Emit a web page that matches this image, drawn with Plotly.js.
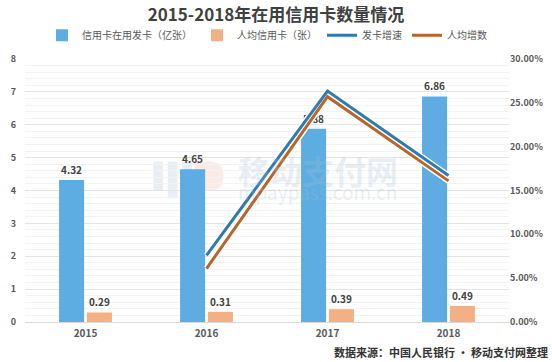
<!DOCTYPE html>
<html><head><meta charset="utf-8">
<script src="https://cdn.plot.ly/plotly-3.0.1.min.js"></script>
<style>html,body{margin:0;padding:0;background:#fff}#c{width:552px;height:362px}</style>
</head><body><div id="c"></div>
<script>
var years = ['2015','2016','2017','2018'];
var cardsInUse = [4.32, 4.65, 5.88, 6.86];
var perCapita = [0.29, 0.31, 0.39, 0.49];
var lineYears = ['2016','2017','2018'];
var cardGrowth = [0.076, 0.2635, 0.167];
var perCapitaGrowth = [0.061, 0.257, 0.161];
var leftTicks = [0,1,2,3,4,5,6,7,8];

var FONT = 'Noto Sans CJK SC, Noto Sans, sans-serif';
var traces = [
  {type:'bar', name:'信用卡在用发卡（亿张）', x:years, y:cardsInUse, marker:{color:'#5DADE2'},
   text:cardsInUse.map(function(v){return v.toFixed(2);}), textposition:'outside', cliponaxis:false,
   textfont:{size:10, color:'#404040', family:FONT, weight:'bold'}},
  {type:'bar', name:'人均信用卡（张）', x:years, y:perCapita, marker:{color:'#F2B084'},
   text:perCapita.map(function(v){return v.toFixed(2);}), textposition:'outside', cliponaxis:false,
   textfont:{size:10, color:'#404040', family:FONT, weight:'bold'}},
  {type:'scatter', mode:'lines', x:lineYears, y:cardGrowth, yaxis:'y2', showlegend:false, hoverinfo:'skip',
   line:{color:'#ffffff', width:6}},
  {type:'scatter', mode:'lines', x:lineYears, y:perCapitaGrowth, yaxis:'y2', showlegend:false, hoverinfo:'skip',
   line:{color:'#ffffff', width:6}},
  {type:'scatter', mode:'lines', name:'发卡增速', x:lineYears, y:cardGrowth, yaxis:'y2',
   line:{color:'#2E7BAF', width:3}},
  {type:'scatter', mode:'lines', name:'人均增数', x:lineYears, y:perCapitaGrowth, yaxis:'y2',
   line:{color:'#B8652C', width:3}}
];

var WM = 'rgba(165,190,212,0.26)';
var layout = {
  width:552, height:362,
  margin:{l:25, r:43, t:59, b:40},
  paper_bgcolor:'#fff', plot_bgcolor:'rgba(0,0,0,0)',
  font:{family:FONT, color:'#595959', size:9},
  title:{text:'<b>2015-2018年在用信用卡数量情况</b>', x:0.5, xanchor:'center', y:0.958, yanchor:'middle',
         font:{size:17, color:'#404040', family:FONT}},
  showlegend:true,
  legend:{orientation:'h', x:0.5, xanchor:'center', y:1.09, yanchor:'middle',
          font:{size:10, color:'#595959', family:FONT}, itemwidth:30, traceorder:'normal', tracegroupgap:0},
  barmode:'group', bargap:0.54, bargroupgap:0.1,
  xaxis:{type:'category', tickfont:{size:10, color:'#595959', family:FONT, weight:'bold'}, showline:false,
         ticks:'', showgrid:false, zeroline:false, ticklabelstandoff:4},
  yaxis:{range:[0,8], tickvals:leftTicks, tickfont:{size:9, color:'#595959', weight:'bold'},
         showgrid:true, gridcolor:'#e4e4e4', gridwidth:1, zeroline:true, zerolinecolor:'#d9d9d9',
         minor:{dtick:0.2, showgrid:true, gridcolor:'#f3f3f3', gridwidth:1}, ticklabelstandoff:8, ticks:''},
  yaxis2:{overlaying:'y', side:'right', range:[0,0.30], dtick:0.05, tickformat:'.2%', showgrid:false,
          zeroline:false, tickfont:{size:9, color:'#595959', weight:'bold'}, ticks:''},
  shapes:[
    {type:'rect', xref:'paper', yref:'paper', x0:0.265, x1:0.285, y0:0.50, y1:0.61, fillcolor:WM, line:{width:0}, layer:'below'},
    {type:'rect', xref:'paper', yref:'paper', x0:0.295, x1:0.315, y0:0.47, y1:0.61, fillcolor:WM, line:{width:0}, layer:'below'},
    {type:'rect', xref:'paper', yref:'paper', x0:0.325, x1:0.345, y0:0.47, y1:0.61, fillcolor:WM, line:{width:0}, layer:'below'},
    {type:'path', xref:'paper', yref:'paper', path:'M 0.35 0.61 L 0.38 0.61 Q 0.41 0.61 0.41 0.555 Q 0.41 0.50 0.38 0.50 L 0.35 0.50 Z',
     fillcolor:'rgba(240,170,150,0.25)', line:{width:0}, layer:'below'}
  ],
  annotations:[
    {text:'<b>数据来源：中国人民银行 • 移动支付网整理</b>', xref:'paper', yref:'paper', x:1.085, y:-0.113,
     xanchor:'right', yanchor:'middle', showarrow:false, font:{size:11, color:'#333333', family:FONT}},
    {text:'移动支付网', xref:'paper', yref:'paper', x:0.605, y:0.578, xanchor:'center', yanchor:'middle',
     showarrow:false, font:{size:32, color:WM, family:FONT, weight:'bold'}},
    {text:'mpaypass.com.cn', xref:'paper', yref:'paper', x:0.605, y:0.495, xanchor:'center', yanchor:'middle',
     showarrow:false, font:{size:19, color:WM, family:FONT}}
  ]
};
Plotly.newPlot('c', traces, layout, {displayModeBar:false, staticPlot:true});
</script></body></html>
